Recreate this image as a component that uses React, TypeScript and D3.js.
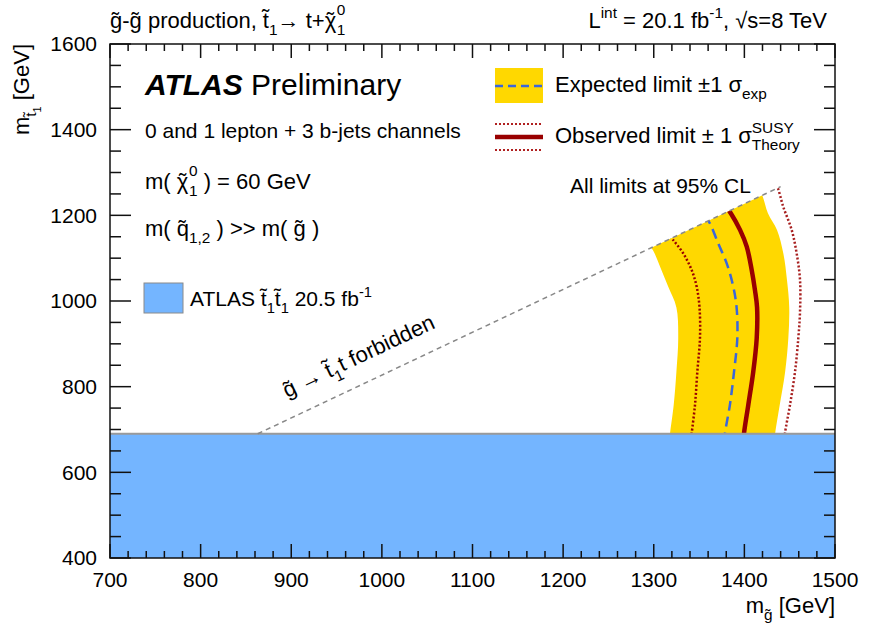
import React from 'react';
import * as d3 from 'd3';

const W = 874;
const H = 627;

// Axis ranges and tick labels
const xDomain = [700, 1500];
const yDomain = [400, 1600];
const xTickLabels = [700, 800, 900, 1000, 1100, 1200, 1300, 1400, 1500];
const yTickLabels = [400, 600, 800, 1000, 1200, 1400, 1600];

// Kinematic boundary m(stop) = m(gluino) - m(top)
const topMass = 173;
const forbiddenLineGluino = [863, 1440];
// Earlier ATLAS direct stop-pair exclusion (m_stop below this value)
const stopPairLimit = 690;

// Exclusion contours, points are [m_gluino, m_stop] in GeV
const expectedBandLow = [
  [1317, 670], [1318, 691], [1322, 757], [1325, 835], [1327, 913], [1325, 985],
  [1316, 1033], [1307, 1080], [1299, 1119], [1285, 1160],
];
const expectedBandHigh = [
  [1433, 670], [1434, 691], [1439, 757], [1445, 835], [1448.5, 913], [1449.5, 985],
  [1447, 1049], [1443, 1111], [1436, 1166], [1426, 1205], [1420, 1245], [1412, 1280],
];
const expectedLimit = [
  [1378, 670], [1378.6, 691], [1384, 757], [1388.6, 835], [1392.2, 913], [1391.5, 983],
  [1387.8, 1033], [1380.5, 1088], [1371.2, 1134], [1362, 1181], [1355, 1205],
];
const observedLimit = [
  [1399, 670], [1399.6, 691], [1404.3, 757], [1409.8, 835], [1413.6, 913], [1414, 985],
  [1411.7, 1025], [1408.1, 1072], [1402.6, 1127], [1395.2, 1166], [1385, 1205], [1378, 1225],
];
const observedMinus = [
  [1341, 670], [1341.9, 691], [1345.5, 757], [1348.1, 835], [1351, 913], [1350.5, 985],
  [1347.4, 1033], [1341.9, 1072], [1332.6, 1111], [1321.6, 1142], [1312, 1165],
];
const observedPlus = [
  [1444, 670], [1444.8, 691], [1450.3, 757], [1455.9, 835], [1459.5, 913], [1461.4, 975],
  [1461.4, 1049], [1457.7, 1111], [1452.2, 1166], [1442.9, 1220], [1436.3, 1267], [1430, 1290],
];

const FONT = '"Liberation Sans", Arial, Helvetica, sans-serif';
const FS = 21;
const FS_LEG = 22;

const plot = { left: 110, right: 835, top: 44, bottom: 558 };

// s: baseline shift (em, positive = down), k: size factor, dx: em offset
type Seg = { t: string; s?: number; k?: number; dx?: number };

function Rich(props: {
  x: number; y: number; segs: Seg[]; fs?: number; anchor?: string;
  transform?: string; fill?: string;
}) {
  const fs = props.fs ?? FS;
  let prev = 0;
  return (
    <text
      x={props.x}
      y={props.y}
      fontSize={fs}
      fontFamily={FONT}
      textAnchor={props.anchor ?? 'start'}
      transform={props.transform}
      fill={props.fill ?? '#000'}
      style={{ whiteSpace: 'pre' }}
    >
      {props.segs.map((g, i) => {
        const shift = (g.s ?? 0) * fs;
        const dy = shift - prev;
        prev = shift;
        return (
          <tspan
            key={i}
            dy={dy === 0 ? undefined : dy}
            dx={g.dx ? g.dx * fs : undefined}
            fontSize={(g.k ?? 1) * fs}
          >
            {g.t}
          </tspan>
        );
      })}
    </text>
  );
}

const TIL = '\u0303';
const sub = (t: string, dx?: number): Seg => ({ t, s: 0.32, k: 0.7, dx });
const sup = (t: string, dx?: number): Seg => ({ t, s: -0.45, k: 0.7, dx });
const n = (t: string, dx?: number): Seg => ({ t, dx });
const DIGIT = 0.7 * 0.556;

// neutralino symbol: chi with a spacing tilde centred above it, then ^0 _1
const CHI_W = 0.52;
const TILDE_W = 0.333;
const chi10 = (): Seg[] => [
  n('\u03C7'),
  n('\u02DC', -(CHI_W + TILDE_W) / 2),
  { t: '0', s: -0.58, k: 0.7, dx: CHI_W / 2 - TILDE_W / 2 + 0.03 },
  sub('1', -DIGIT),
];

export default function App() {
  const x = d3.scaleLinear().domain(xDomain).range([plot.left, plot.right]);
  const y = d3.scaleLinear().domain(yDomain).range([plot.bottom, plot.top]);

  const line = d3
    .line<number[]>()
    .x((d) => x(d[0]))
    .y((d) => y(d[1]))
    .curve(d3.curveCatmullRom.alpha(0.5));

  const bandPts = [...expectedBandLow, ...expectedBandHigh.slice().reverse()];
  const bandPath = d3
    .line<number[]>()
    .x((d) => x(d[0]))
    .y((d) => y(d[1]))
    .curve(d3.curveCatmullRomClosed.alpha(0.5))(bandPts) as string;

  // region below the kinematic boundary, inside the frame
  const allowed = [
    [xDomain[0], yDomain[0]],
    [xDomain[1], yDomain[0]],
    [xDomain[1], xDomain[1] - topMass],
    [xDomain[0], xDomain[0] - topMass],
  ];
  const allowedPath = 'M' + allowed.map((p) => `${x(p[0])},${y(p[1])}`).join('L') + 'Z';

  const xMinor = d3.range(xDomain[0], xDomain[1] + 0.1, 20);
  const yMinor = d3.range(yDomain[0], yDomain[1] + 0.1, 50);

  const diagA = [forbiddenLineGluino[0], forbiddenLineGluino[0] - topMass];
  const diagB = [forbiddenLineGluino[1], forbiddenLineGluino[1] - topMass];
  const angle =
    (Math.atan2(y(diagB[1]) - y(diagA[1]), x(diagB[0]) - x(diagA[0])) * 180) / Math.PI;

  const xMajLen = 14, xMinLen = 7, yMajLen = 21, yMinLen = 11;
  const darkRed = '#990000';

  return (
    <svg width={W} height={H} style={{ position: 'absolute', left: 0, top: 0, background: '#fff' }}>
      <defs>
        <clipPath id="allowed">
          <path d={allowedPath} />
        </clipPath>
      </defs>

      {/* exclusion contours */}
      <g clipPath="url(#allowed)">
        <path d={bandPath} fill="#ffd800" stroke="none" />
        <path d={line(observedMinus) as string} fill="none" stroke={darkRed} strokeWidth={2.5} strokeDasharray="2,2" />
        <path d={line(observedPlus) as string} fill="none" stroke="#a82020" strokeWidth={2.5} strokeDasharray="2,2" />
        <path d={line(expectedLimit) as string} fill="none" stroke="#3b67db" strokeWidth={2.5} strokeDasharray="10,6" />
        <path d={line(observedLimit) as string} fill="none" stroke={darkRed} strokeWidth={4.5} />
      </g>

      {/* previous stop-pair exclusion */}
      <rect
        x={x(xDomain[0])}
        y={y(stopPairLimit)}
        width={x(xDomain[1]) - x(xDomain[0])}
        height={y(yDomain[0]) - y(stopPairLimit)}
        fill="#74b5ff"
      />
      <line x1={x(xDomain[0])} x2={x(xDomain[1])} y1={y(stopPairLimit)} y2={y(stopPairLimit)} stroke="#9a9a9a" strokeWidth={2} />

      {/* kinematic boundary */}
      <line
        x1={x(diagA[0])} y1={y(diagA[1])} x2={x(diagB[0])} y2={y(diagB[1])}
        stroke="#888" strokeWidth={1.5} strokeDasharray="5,4"
      />
      <Rich
        x={287} y={398} fs={22}
        transform={`rotate(${angle} 287 398)`}
        segs={[n('g' + TIL + ' \u2192 t' + TIL), sub('1'), n('t forbidden')]}
      />

      {/* frame and ticks */}
      <g stroke="#111" strokeWidth={1.5}>
        {xMinor.map((v) => {
          const major = xTickLabels.includes(v);
          const L = major ? xMajLen : xMinLen;
          return (
            <g key={'x' + v}>
              <line x1={x(v)} x2={x(v)} y1={plot.bottom} y2={plot.bottom - L} />
              <line x1={x(v)} x2={x(v)} y1={plot.top} y2={plot.top + L} />
            </g>
          );
        })}
        {yMinor.map((v) => {
          const major = yTickLabels.includes(v);
          const L = major ? yMajLen : yMinLen;
          return (
            <g key={'y' + v}>
              <line x1={plot.left} x2={plot.left + L} y1={y(v)} y2={y(v)} />
              <line x1={plot.right} x2={plot.right - L} y1={y(v)} y2={y(v)} />
            </g>
          );
        })}
        <rect x={plot.left} y={plot.top} width={plot.right - plot.left} height={plot.bottom - plot.top} fill="none" />
      </g>

      {/* tick labels */}
      {xTickLabels.map((v) => (
        <text key={'xl' + v} x={x(v)} y={587} fontSize={FS} fontFamily={FONT} textAnchor="middle">{v}</text>
      ))}
      {yTickLabels.map((v) => (
        <text key={'yl' + v} x={97} y={y(v)} dy="0.35em" fontSize={FS} fontFamily={FONT} textAnchor="end">{v}</text>
      ))}

      {/* axis titles */}
      <Rich x={835} y={613} fs={22} anchor="end" segs={[n('m'), sub('g' + TIL), n(' [GeV]')]} />
      <Rich
        x={29} y={44} fs={22} anchor="end" transform="rotate(-90 29 44)"
        segs={[n('m'), sub('t' + TIL), { t: '1', s: 0.55, k: 0.5 }, n(' [GeV]')]}
      />

      {/* header */}
      <Rich
        x={110} y={28} fs={22}
        segs={[
          n('g' + TIL + '-g' + TIL + ' production, t' + TIL), sub('1'), n('\u2192 t+'),
          ...chi10(),
        ]}
      />
      <Rich
        x={827} y={28} fs={22} anchor="end"
        segs={[n('L'), sup('int'), n(' = 20.1 fb'), sup('-1'), n(', \u221As=8 TeV')]}
      />

      {/* left annotations */}
      <text x={145} y={95} fontSize={30} fontFamily={FONT} style={{ whiteSpace: 'pre' }}>
        <tspan fontWeight="bold" fontStyle="italic">ATLAS</tspan>
        <tspan> Preliminary</tspan>
      </text>
      <Rich x={145} y={138} segs={[n('0 and 1 lepton + 3 b-jets channels')]} />
      <Rich
        x={145} y={189} fs={22}
        segs={[n('m( '), ...chi10(), n(' ) = 60 GeV')]}
      />
      <Rich x={145} y={236} fs={22} segs={[n('m( q' + TIL), sub('1,2'), n(' ) >> m( g' + TIL + ' )')]} />

      <rect x={144} y={283} width={39} height={30} fill="#74b5ff" stroke="#8a8a8a" strokeWidth={1} />
      <Rich
        x={190} y={306}
        segs={[n('ATLAS t' + TIL), sub('1'), n('t' + TIL), sub('1'), n(' 20.5 fb'), sup('-1')]}
      />

      {/* legend */}
      <rect x={495} y={68} width={48} height={35} fill="#ffd800" />
      <line x1={495} x2={543} y1={86} y2={86} stroke="#3b67db" strokeWidth={2.5} strokeDasharray="8,5" />
      <Rich x={555} y={92} fs={FS_LEG} segs={[n('Expected limit \u00B11 \u03C3'), sub('exp')]} />

      <line x1={495} x2={543} y1={124} y2={124} stroke="#b02020" strokeWidth={2} strokeDasharray="2,2" />
      <line x1={495} x2={543} y1={137} y2={137} stroke={darkRed} strokeWidth={4.5} />
      <line x1={495} x2={543} y1={150} y2={150} stroke="#b02020" strokeWidth={2} strokeDasharray="2,2" />
      <Rich
        x={555} y={143} fs={FS_LEG}
        segs={[n('Observed limit \u00B1 1 \u03C3'), sup('SUSY'), sub('Theory', -0.7 * 2.72)]}
      />
      <Rich x={570} y={193} segs={[n('All limits at 95% CL')]} />
    </svg>
  );
}
